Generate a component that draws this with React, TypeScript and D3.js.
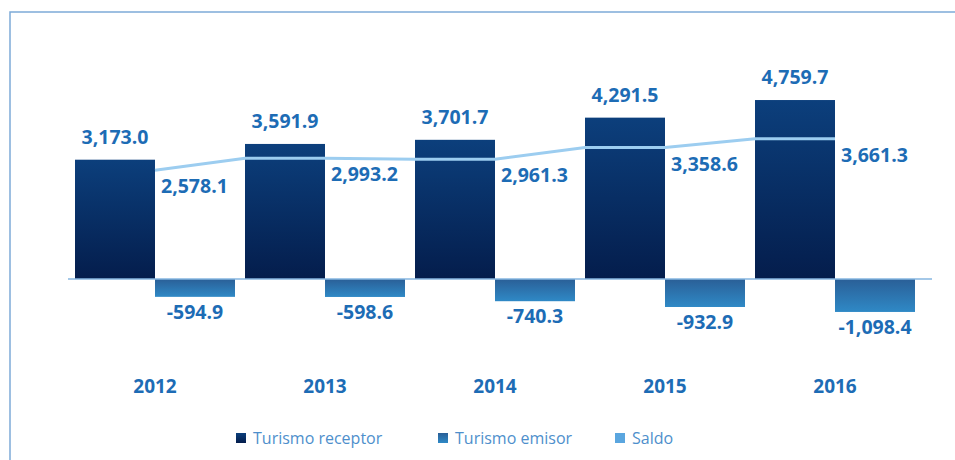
import React from "react";
import * as d3 from "d3";

const years: string[] = ["2012", "2013", "2014", "2015", "2016"];
const receptor: number[] = [3173.0, 3591.9, 3701.7, 4291.5, 4759.7];
const emisor: number[] = [-594.9, -598.6, -740.3, -932.9, -1098.4];
const saldo: number[] = [2578.1, 2993.2, 2961.3, 3358.6, 3661.3];
const legendLabels: string[] = ["Turismo receptor", "Turismo emisor", "Saldo"];

const LabelColor = "#1d6cb5";
const LineColor = "#9ccdf0";
const AxisColor = "#86b6e0";
const FrameColor = "#7eaad8";

const locale = d3.formatLocale({decimal: ".", thousands: ",", grouping: [3], currency: ["", ""], minus: "-"});
const fmt = locale.format(",.1f");

export default function App(): React.ReactElement {
  const width = 955;
  const height = 460;
  const baseY = 279;

  const x = d3.scaleBand<string>().domain(years).range([70, 920]).padding(0);
  const xSub = d3.scaleBand<string>().domain(["rec", "emi"]).range([0, x.bandwidth()])
    .paddingInner(0).paddingOuter(0.0625);

  // bars: positive & negative parts scaled separately (as the original chart)
  const y = d3.scaleLinear().domain([-1200, 0, 5000]).range([baseY + 36, baseY, baseY - 188]);
  // saldo on its own (secondary) axis
  const y2 = d3.scaleLinear().domain([0, 5000]).range([245.5, 99.7]);

  // line runs across the top of each receptor bar (first one starts at its right edge)
  const linePts: [number, number][] = [];
  years.forEach((yr, i) => {
    const x0 = (x(yr) ?? 0) + (xSub("rec") ?? 0);
    const x1 = x0 + xSub.bandwidth();
    if (i > 0) linePts.push([x0, y2(saldo[i])]);
    linePts.push([x1, y2(saldo[i])]);
  });
  const line = d3.line();

  const legendX = [236, 438, 615];
  const legendFills = ["url(#gRec)", "url(#gEmi)", "#5aa6df"];

  return (
    <svg width={width} height={height} style={{position: "absolute", left: 0, top: 0}}
         fontFamily="'Open Sans', sans-serif">
      <defs>
        <linearGradient id="gRec" x1="0" y1="0" x2="0" y2="1">
          <stop offset="0%" stopColor="#0c3f7c" />
          <stop offset="100%" stopColor="#041d4c" />
        </linearGradient>
        <linearGradient id="gEmi" x1="0" y1="0" x2="0" y2="1">
          <stop offset="0%" stopColor="#2a5f97" />
          <stop offset="100%" stopColor="#2f89c6" />
        </linearGradient>
      </defs>

      <rect x={0} y={0} width={width} height={height} fill="#ffffff" />
      <path d={`M10,${height} V12 H${width}`} fill="none" stroke={FrameColor} strokeWidth={1.5} />

      {years.map((yr, i) => {
        const bx = (x(yr) ?? 0) + (xSub("rec") ?? 0);
        return (
          <rect key={"r" + yr} x={bx} y={y(receptor[i])} width={xSub.bandwidth()}
                height={baseY - y(receptor[i])} fill="url(#gRec)" />
        );
      })}
      {years.map((yr, i) => {
        const bx = (x(yr) ?? 0) + (xSub("emi") ?? 0);
        return (
          <rect key={"e" + yr} x={bx} y={baseY} width={xSub.bandwidth()}
                height={y(emisor[i]) - baseY} fill="url(#gEmi)" />
        );
      })}

      <line x1={68} x2={932} y1={baseY} y2={baseY} stroke={AxisColor} strokeWidth={1.5} />

      <path d={line(linePts) ?? ""} fill="none" stroke={LineColor} strokeWidth={3} />

      {years.map((yr, i) => {
        const cx = (x(yr) ?? 0) + (xSub("rec") ?? 0) + xSub.bandwidth() / 2;
        return (
          <text key={"lr" + yr} x={cx} y={y(receptor[i]) - 16} textAnchor="middle"
                fontSize={19.5} fontWeight={700} fill={LabelColor}>{fmt(receptor[i])}</text>
        );
      })}
      {years.map((yr, i) => {
        const cx = (x(yr) ?? 0) + (xSub("emi") ?? 0) + xSub.bandwidth() / 2;
        return (
          <text key={"le" + yr} x={cx} y={y(emisor[i]) + 22} textAnchor="middle"
                fontSize={19.5} fontWeight={700} fill={LabelColor}>{fmt(emisor[i])}</text>
        );
      })}
      {years.map((yr, i) => {
        const lx = (x(yr) ?? 0) + x.bandwidth() / 2 + 6;
        return (
          <text key={"ls" + yr} x={lx} y={y2(saldo[i]) + 23} textAnchor="start"
                fontSize={19.5} fontWeight={700} fill={LabelColor}>{fmt(saldo[i])}</text>
        );
      })}

      {years.map((yr) => (
        <text key={"y" + yr} x={(x(yr) ?? 0) + x.bandwidth() / 2} y={393} textAnchor="middle"
              fontSize={19} fontWeight={700} fill={LabelColor}>{yr}</text>
      ))}

      {legendLabels.map((lab, i) => (
        <g key={lab} transform={`translate(${legendX[i]},433)`}>
          <rect x={0} y={0} width={10} height={10} fill={legendFills[i]} />
          <text x={17} y={10.5} fontSize={16} fill="#4e8fcc" letterSpacing={0}>{lab}</text>
        </g>
      ))}
    </svg>
  );
}
